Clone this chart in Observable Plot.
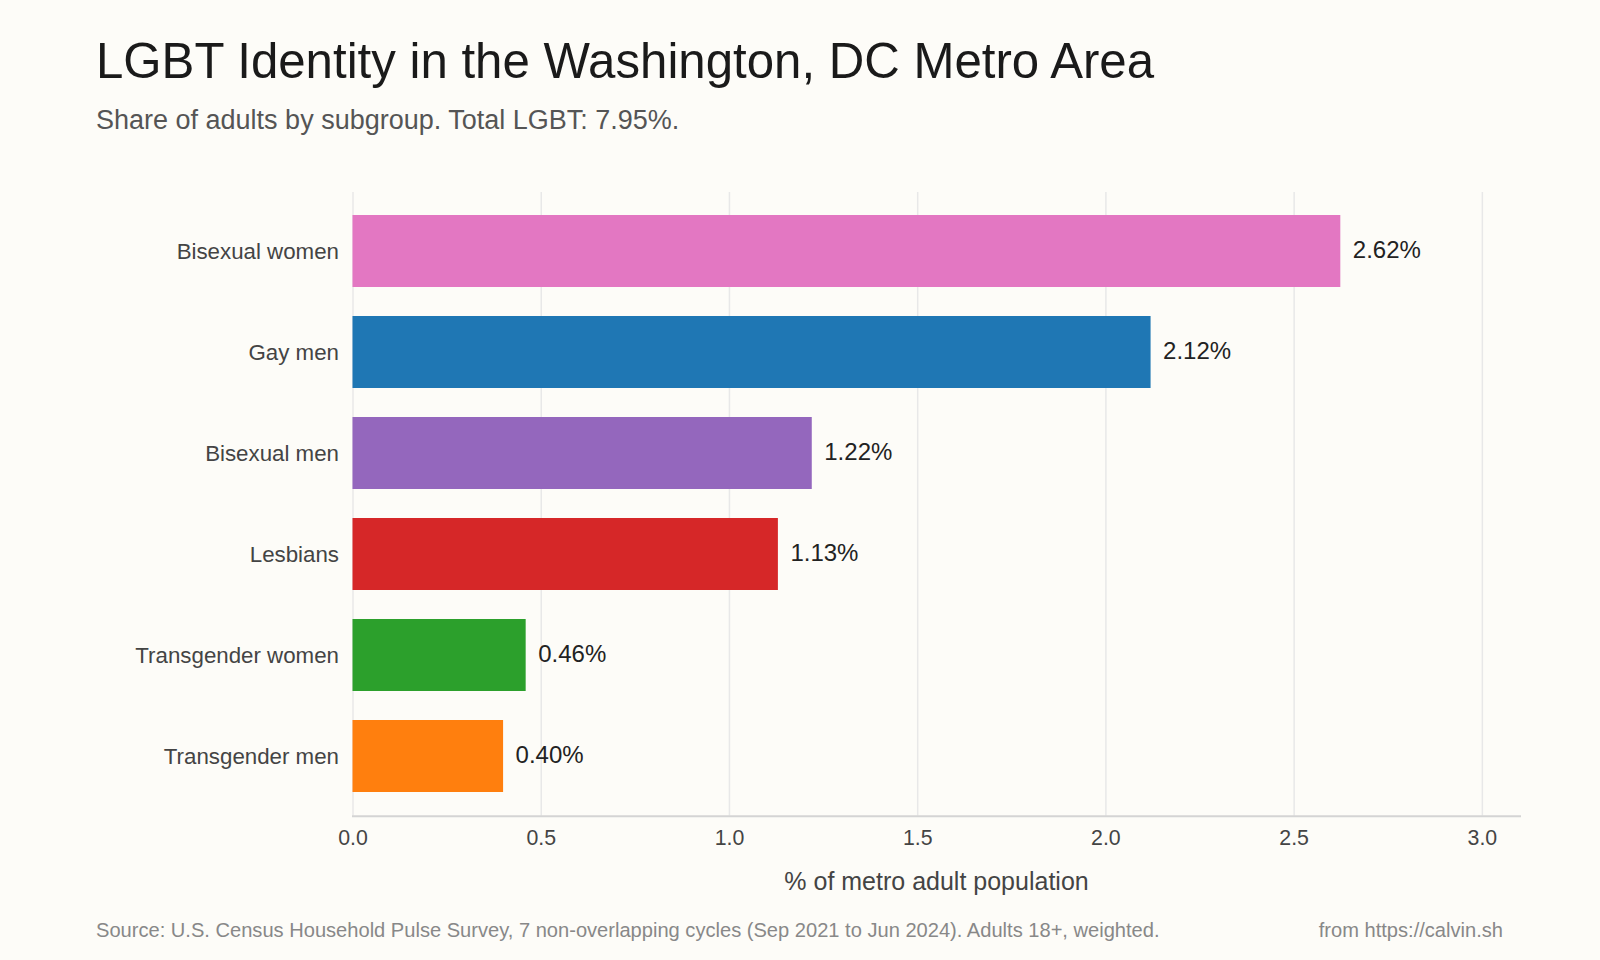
<!DOCTYPE html>
<html>
<head>
<meta charset="utf-8">
<script src="https://cdn.jsdelivr.net/npm/d3@7"></script>
<script src="https://cdn.jsdelivr.net/npm/@observablehq/plot@0.6"></script>
<style>
  html, body { margin: 0; padding: 0; background: #fdfcf8; }
  body { width: 1600px; height: 960px; position: relative; overflow: hidden;
         font-family: "Liberation Sans", Arial, Helvetica, sans-serif; }
  .title { position: absolute; left: 96px; top: 36px; font-size: 49.2px; color: #1a1a1a; line-height: 1; white-space: nowrap; }
  .subtitle { position: absolute; left: 96px; top: 107px; font-size: 27px; color: #555; line-height: 1; white-space: nowrap; }
  #chart { position: absolute; left: 0; top: 150px; }
  .caption { position: absolute; top: 920px; font-size: 20.1px; color: #888; line-height: 1; white-space: nowrap; }
  .cap-left { left: 96px; }
  .cap-right { right: 97px; }
</style>
</head>
<body>
<div class="title">LGBT Identity in the Washington, DC Metro Area</div>
<div class="subtitle">Share of adults by subgroup. Total LGBT: 7.95%.</div>
<div id="chart"></div>
<div class="caption cap-left">Source: U.S. Census Household Pulse Survey, 7 non-overlapping cycles (Sep 2021 to Jun 2024). Adults 18+, weighted.</div>
<div class="caption cap-right">from https://calvin.sh</div>
<script>
const groups = ["Bisexual women", "Gay men", "Bisexual men", "Lesbians", "Transgender women", "Transgender men"];
const shares = [2.624, 2.12, 1.22, 1.13, 0.46, 0.40];
const colors = ["#e377c2", "#1f77b4", "#9467bd", "#d62728", "#2ca02c", "#ff7f0e"];
const xTicks = [0, 0.5, 1.0, 1.5, 2.0, 2.5, 3.0];
const xDomain = [0, 3.1];
const xLabel = "% of metro adult population";

const data = groups.map((g, i) => ({group: g, share: shares[i], color: colors[i]}));

const chart = Plot.plot({
  width: 1600,
  height: 760,
  marginLeft: 352.5,
  marginRight: 80.5,
  marginTop: 42,
  marginBottom: 94.3,
  style: {background: "transparent", fontFamily: "'Liberation Sans', Arial, Helvetica, sans-serif"},
  x: {domain: xDomain},
  y: {domain: groups, paddingInner: 0.29, paddingOuter: 0.23},
  marks: [
    Plot.gridX(xTicks, {stroke: "#e8e8e8", strokeOpacity: 1, strokeWidth: 1.5}),
    Plot.barX(data, {x: "share", y: "group", fill: "color"}),
    Plot.text(data, {x: "share", y: "group", text: d => d.share.toFixed(2) + "%", textAnchor: "start", dx: 12, dy: -1, fontSize: 24, fill: "#222"}),
    Plot.frame({anchor: "bottom", stroke: "#d4d4d4", strokeWidth: 2}),
    Plot.axisX(xTicks, {tickSize: 0, tickPadding: 14, tickFormat: d3.format(".1f"), fontSize: 21.3, color: "#444", label: null}),
    Plot.text([xLabel], {frameAnchor: "bottom", dy: 74, fontSize: 25, fill: "#444"}),
    Plot.axisY({tickSize: 0, tickPadding: 14, fontSize: 22.3, color: "#444", label: null})
  ]
});
document.getElementById("chart").appendChild(chart);
</script>
</body>
</html>
